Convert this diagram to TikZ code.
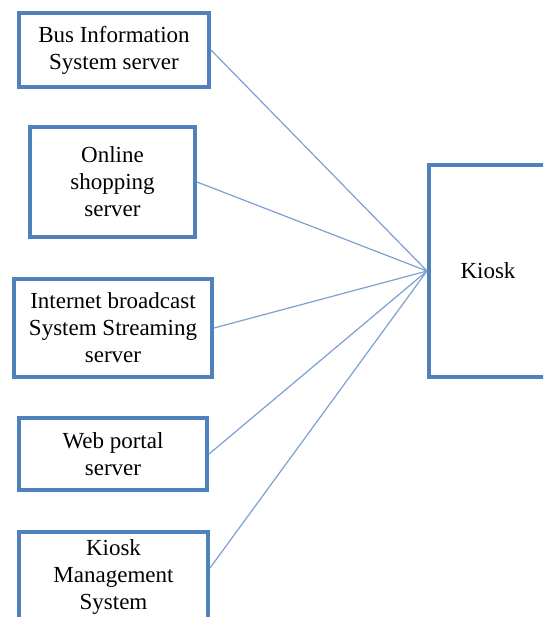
\documentclass[tikz,border=0pt]{standalone}
\usepackage{fontspec}
\setmainfont{Liberation Serif}
\usetikzlibrary{positioning}
\definecolor{BoxBlue}{RGB}{79,129,189}
\definecolor{LinkBlue}{RGB}{125,160,208}

\begin{document}
\begin{tikzpicture}[x=0.5pt,y=-0.5pt,
        box/.style={draw=BoxBlue,line width=2pt,fill=white,align=center,
                    font=\fontsize{11.5}{13.5}\selectfont,inner sep=2pt},
        link/.style={LinkBlue,line width=0.6pt}
      ]
        \useasboundingbox (0,0) rectangle (543,617);
        \clip (0,0) rectangle (543,617);
        \fill[white] (0,0) rectangle (543,617);
        \node[box,minimum width=95pt,minimum height=37pt] (bus) at (114,50)
          {Bus Information\\System server};
        \node[box,minimum width=82.5pt,minimum height=55pt] (shop) at (112.5,182)
          {Online\\shopping\\server};
        \node[box,minimum width=99pt,minimum height=49pt] (stream) at (113,328)
          {Internet broadcast\\System Streaming\\server};
        \node[box,minimum width=94pt,minimum height=36pt] (portal) at (113,454)
          {Web portal\\server};
        \node[box,minimum width=94.5pt,minimum height=45pt] (mgmt) at (113.5,577)
          {Kiosk\\Management\\System};
        \node[box,minimum width=59pt,minimum height=106pt] (kiosk) at (488,271)
          {Kiosk};
        \draw[link] (bus.east)--(kiosk.west);
        \draw[link] (shop.east)--(kiosk.west);
        \draw[link] (stream.east)--(kiosk.west);
        \draw[link] (portal.east)--(kiosk.west);
        \draw[link] ([yshift=4.5pt]mgmt.east)--(kiosk.west);
      \end{tikzpicture}
\end{document}
